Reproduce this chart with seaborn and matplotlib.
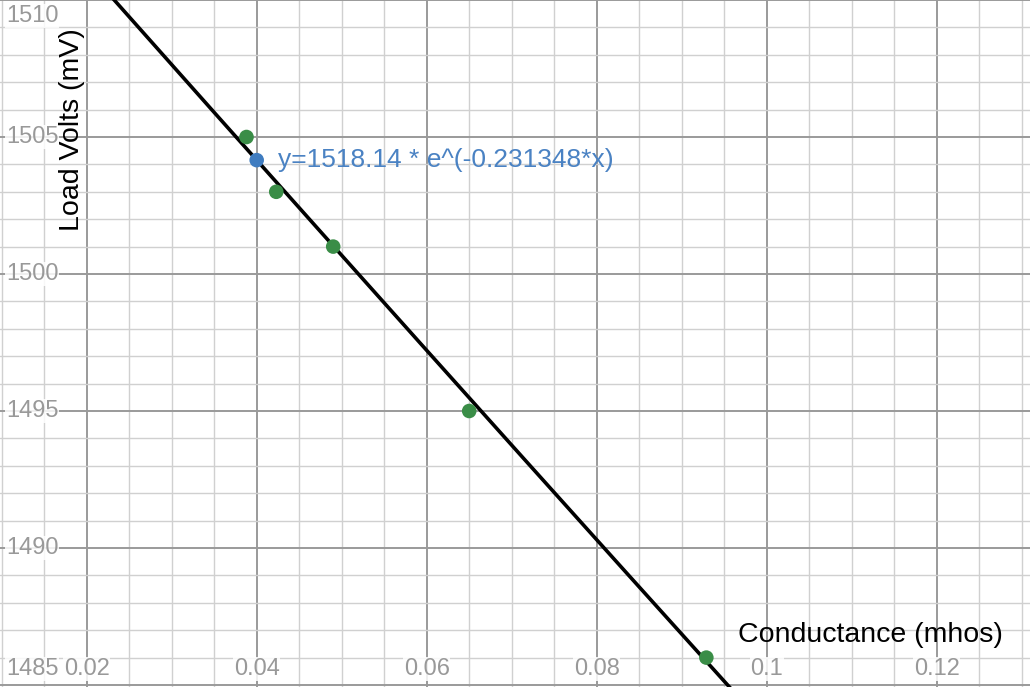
import numpy as np
import pandas as pd
import matplotlib
matplotlib.use("Agg")
import matplotlib.pyplot as plt
import seaborn as sns
from matplotlib.transforms import blended_transform_factory

# ---- data ----
conductance = [0.0388, 0.0423, 0.0490, 0.0650, 0.0929]
load_volts = [1505.0, 1503.0, 1501.0, 1495.0, 1486.0]
fit_a = 1518.14
fit_b = -0.231348
marked_x = [0.04]
x_ticks = [0.02, 0.04, 0.06, 0.08, 0.1, 0.12]
x_tick_labels = ["0.02", "0.04", "0.06", "0.08", "0.1", "0.12"]
y_ticks = [1510, 1505, 1500, 1495, 1490, 1485]
y_tick_labels = ["1510", "1505", "1500", "1495", "1490", "1485"]
eq_label = "y=1518.14 * e^(-0.231348*x)"

sns.set_style("white")
plt.rcParams["font.family"] = ["Liberation Sans", "DejaVu Sans"]

fig = plt.figure(figsize=(10.30, 6.87), dpi=100)
ax = fig.add_axes([0, 0, 1, 1])
xmin, xmax = 0.0098, 0.0098 + 1030 / 8500
ymin, ymax = 1510 - 687 / 27.4, 1510.0

# grid
for v in np.arange(0.005, 0.135, 0.005):
    major = abs(v / 0.02 - round(v / 0.02)) < 1e-6
    ax.axvline(v, color="#9a9a9a" if major else "#d0d0d0", lw=1.4 if major else 1.0, zorder=0)
for v in range(1484, 1511):
    major = v % 5 == 0
    ax.axhline(v, color="#9a9a9a" if major else "#d0d0d0", lw=1.4 if major else 1.0, zorder=0)

# fitted curve
xs = np.linspace(xmin, xmax, 300)
curve = pd.DataFrame({"x": xs, "y": fit_a * np.exp(fit_b * xs)})
sns.lineplot(data=curve, x="x", y="y", color="black", lw=2.6, ax=ax, zorder=3)

# data points
pts = pd.DataFrame({"x": conductance, "y": load_volts})
sns.scatterplot(data=pts, x="x", y="y", color="#3a8d47", s=110, edgecolor="none", ax=ax, zorder=4)

# marked point on the curve
mk = pd.DataFrame({"x": marked_x, "y": [fit_a * np.exp(fit_b * v) for v in marked_x]})
sns.scatterplot(data=mk, x="x", y="y", color="#3f7cc0", s=110, edgecolor="none", ax=ax, zorder=5)
ax.text(marked_x[0] + 0.0025, mk["y"][0], eq_label, color="#4a82c3", fontsize=19,
        va="center", ha="left", zorder=6)

ax.set_xlim(xmin, xmax)
ax.set_ylim(ymin, ymax)
ax.set_xticks([])
ax.set_yticks([])
ax.set_xlabel("")
ax.set_ylabel("")
for s in ax.spines.values():
    s.set_visible(False)

bbox = dict(facecolor="white", edgecolor="none", pad=0.5, alpha=0.85)
# x tick labels along bottom
tx = blended_transform_factory(ax.transData, ax.transAxes)
for v, lab in zip(x_ticks, x_tick_labels):
    ax.text(v, 18 / 687, lab, transform=tx, color="#999999", fontsize=17,
            ha="center", va="center", bbox=bbox, zorder=7)
# y tick labels along left edge
ty = blended_transform_factory(ax.transAxes, ax.transData)
for v, lab in zip(y_ticks, y_tick_labels):
    yy = v
    if v == 1510:
        yy = 1510 - 16 / 27.4
    if v == 1485:
        yy = ymin + 18 / 27.4
    ax.text(6 / 1030, yy, lab, transform=ty, color="#999999", fontsize=17,
            ha="left", va="center", bbox=bbox, zorder=7)

# axis titles
ax.text(72 / 1030, 1 - 130 / 687, "Load Volts (mV)", transform=ax.transAxes, rotation=90,
        fontsize=20.5, color="black", ha="center", va="center", zorder=7)
ax.text(870 / 1030, 1 - 635 / 687, "Conductance (mhos)", transform=ax.transAxes,
        fontsize=20.5, color="black", ha="center", va="center", zorder=7)

fig.savefig("out.png", dpi=100)
